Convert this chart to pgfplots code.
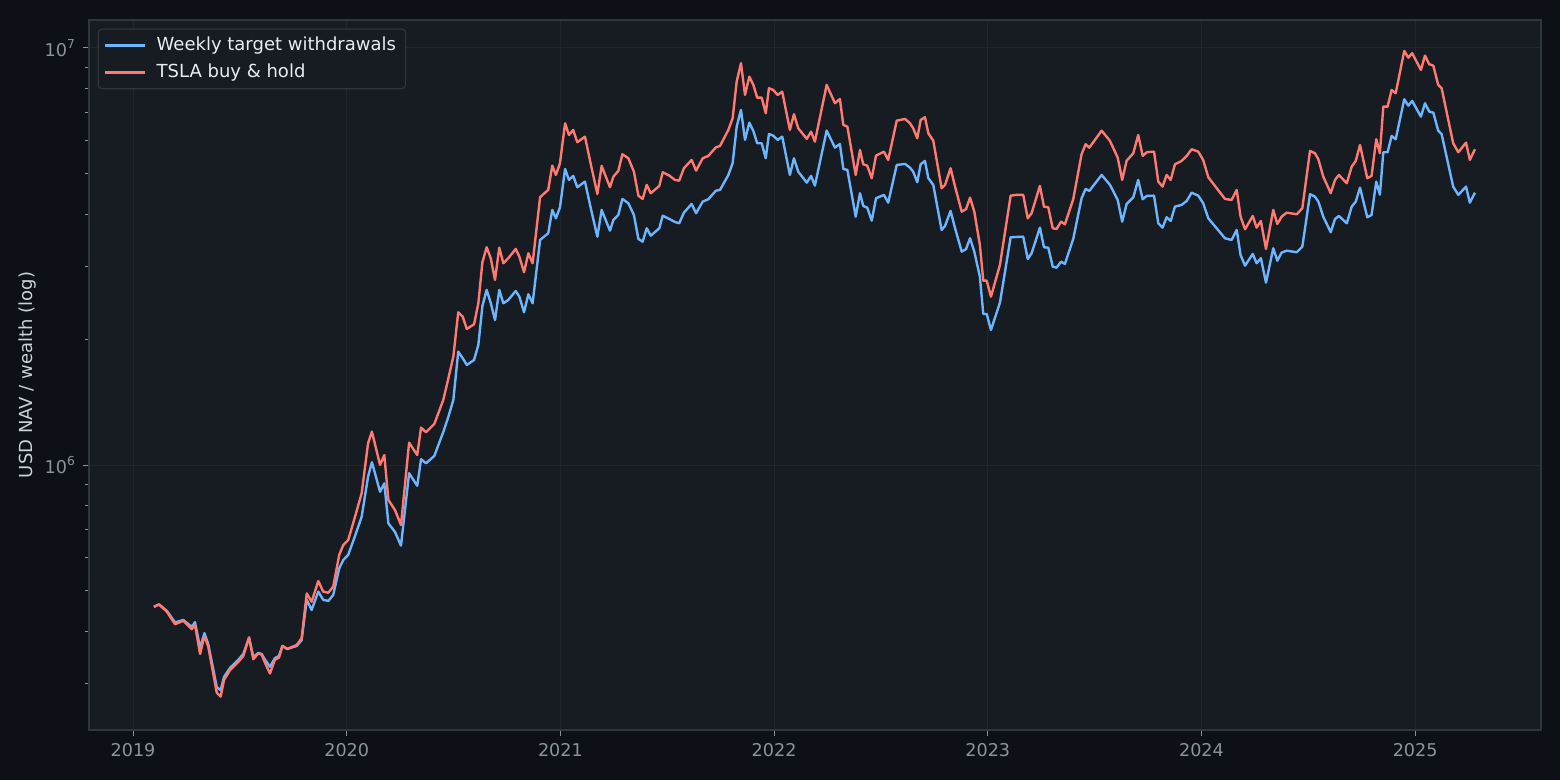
\documentclass[border=0pt]{standalone}
\usepackage{fontspec}
\setmainfont{DejaVu Sans}
\usepackage{pgfplots}
\usepackage{pgfplotstable}
\pgfplotsset{compat=1.18}
\definecolor{figbg}{HTML}{0D1117}
\definecolor{axbg}{HTML}{171B22}
\definecolor{spine}{HTML}{30363D}
\definecolor{gridc}{HTML}{21262D}
\definecolor{tickc}{HTML}{8B949E}
\definecolor{labc}{HTML}{C9D1D9}
\definecolor{legtext}{HTML}{E6EDF3}
\definecolor{bluel}{HTML}{6CB6FF}
\definecolor{redl}{HTML}{FF7B72}

\pgfplotstableread{
year weekly tsla
2019.098 4.58e5 4.58e5
2019.122 4.64e5 4.64e5
2019.158 4.48e5 4.46e5
2019.197 4.20e5 4.16e5
2019.235 4.26e5 4.24e5
2019.275 4.10e5 4.05e5
2019.290 4.21e5 4.14e5
2019.314 3.65e5 3.53e5
2019.334 3.96e5 3.90e5
2019.352 3.73e5 3.68e5
2019.392 2.94e5 2.85e5
2019.410 2.89e5 2.79e5
2019.426 3.11e5 3.06e5
2019.454 3.27e5 3.23e5
2019.493 3.42e5 3.38e5
2019.516 3.53e5 3.49e5
2019.543 3.86e5 3.87e5
2019.563 3.47e5 3.43e5
2019.586 3.55e5 3.54e5
2019.602 3.53e5 3.52e5
2019.618 3.42e5 3.36e5
2019.641 3.29e5 3.17e5
2019.664 3.45e5 3.42e5
2019.683 3.49e5 3.46e5
2019.699 3.69e5 3.69e5
2019.722 3.63e5 3.63e5
2019.766 3.69e5 3.71e5
2019.789 3.81e5 3.85e5
2019.813 4.76e5 4.93e5
2019.836 4.50e5 4.71e5
2019.867 4.98e5 5.28e5
2019.890 4.76e5 4.98e5
2019.914 4.73e5 4.95e5
2019.937 4.89e5 5.12e5
2019.965 5.66e5 6.10e5
2019.984 5.93e5 6.44e5
2020.007 6.10e5 6.62e5
2020.039 6.77e5 7.53e5
2020.070 7.53e5 8.57e5
2020.100 9.39e5 1.129e6
2020.118 1.017e6 1.204e6
2020.156 8.64e5 1.002e6
2020.176 9.05e5 1.058e6
2020.195 7.26e5 8.26e5
2020.226 6.92e5 7.81e5
2020.254 6.42e5 7.19e5
2020.292 9.57e5 1.133e6
2020.330 8.93e5 1.058e6
2020.348 1.034e6 1.231e6
2020.371 1.011e6 1.200e6
2020.410 1.053e6 1.256e6
2020.452 1.202e6 1.434e6
2020.474 1.298e6 1.601e6
2020.499 1.434e6 1.821e6
2020.522 1.872e6 2.326e6
2020.543 1.805e6 2.270e6
2020.562 1.739e6 2.121e6
2020.596 1.788e6 2.177e6
2020.616 1.942e6 2.444e6
2020.635 2.408e6 3.065e6
2020.655 2.631e6 3.330e6
2020.674 2.449e6 3.134e6
2020.694 2.229e6 2.780e6
2020.714 2.631e6 3.322e6
2020.733 2.444e6 3.048e6
2020.756 2.489e6 3.134e6
2020.791 2.616e6 3.299e6
2020.808 2.535e6 3.161e6
2020.830 2.326e6 2.901e6
2020.850 2.569e6 3.221e6
2020.870 2.444e6 3.048e6
2020.905 3.467e6 4.387e6
2020.920 3.518e6 4.461e6
2020.943 3.597e6 4.568e6
2020.962 4.091e6 5.223e6
2020.979 3.907e6 4.962e6
2020.998 4.152e6 5.293e6
2021.022 5.129e6 6.600e6
2021.040 4.827e6 6.187e6
2021.060 4.935e6 6.361e6
2021.079 4.637e6 5.943e6
2021.115 4.782e6 6.130e6
2021.143 4.113e6 5.243e6
2021.173 3.530e6 4.468e6
2021.193 4.091e6 5.215e6
2021.232 3.649e6 4.637e6
2021.248 3.871e6 4.916e6
2021.271 3.979e6 5.073e6
2021.290 4.347e6 5.562e6
2021.318 4.245e6 5.441e6
2021.344 3.979e6 5.053e6
2021.365 3.486e6 4.426e6
2021.385 3.434e6 4.347e6
2021.404 3.698e6 4.696e6
2021.423 3.550e6 4.486e6
2021.463 3.698e6 4.670e6
2021.479 3.964e6 5.037e6
2021.510 3.892e6 4.943e6
2021.536 3.828e6 4.827e6
2021.556 3.801e6 4.809e6
2021.578 4.030e6 5.149e6
2021.614 4.228e6 5.390e6
2021.635 4.017e6 5.081e6
2021.666 4.283e6 5.441e6
2021.692 4.339e6 5.511e6
2021.728 4.550e6 5.781e6
2021.747 4.568e6 5.823e6
2021.786 4.962e6 6.361e6
2021.806 5.293e6 6.785e6
2021.825 6.477e6 8.303e6
2021.845 7.103e6 9.191e6
2021.864 6.019e6 7.716e6
2021.884 6.622e6 8.535e6
2021.903 6.325e6 8.153e6
2021.921 5.910e6 7.601e6
2021.942 5.910e6 7.601e6
2021.961 5.441e6 6.975e6
2021.976 6.221e6 8.006e6
2021.996 6.164e6 7.931e6
2022.017 6.019e6 7.716e6
2022.038 6.130e6 7.857e6
2022.074 4.962e6 6.361e6
2022.093 5.441e6 6.936e6
2022.113 5.053e6 6.421e6
2022.153 4.756e6 6.053e6
2022.173 4.935e6 6.301e6
2022.191 4.678e6 5.963e6
2022.246 6.336e6 8.153e6
2022.285 5.769e6 7.371e6
2022.308 5.888e6 7.548e6
2022.324 5.129e6 6.539e6
2022.343 5.101e6 6.477e6
2022.382 3.942e6 4.962e6
2022.402 4.486e6 5.696e6
2022.417 4.182e6 5.264e6
2022.436 4.143e6 5.223e6
2022.457 3.856e6 4.872e6
2022.477 4.363e6 5.520e6
2022.514 4.444e6 5.643e6
2022.534 4.259e6 5.390e6
2022.574 5.243e6 6.696e6
2022.613 5.273e6 6.758e6
2022.636 5.166e6 6.600e6
2022.651 5.053e6 6.421e6
2022.670 4.766e6 6.076e6
2022.686 5.264e6 6.722e6
2022.706 5.361e6 6.823e6
2022.722 4.872e6 6.245e6
2022.745 4.696e6 5.996e6
2022.784 3.663e6 4.611e6
2022.800 3.745e6 4.696e6
2022.826 4.068e6 5.149e6
2022.847 3.698e6 4.652e6
2022.878 3.250e6 4.052e6
2022.898 3.293e6 4.107e6
2022.917 3.499e6 4.378e6
2022.937 3.250e6 4.052e6
2022.963 2.831e6 3.372e6
2022.979 2.304e6 2.769e6
2022.995 2.304e6 2.769e6
2023.015 2.110e6 2.535e6
2023.057 2.453e6 3.020e6
2023.107 3.518e6 4.426e6
2023.132 3.524e6 4.444e6
2023.166 3.530e6 4.444e6
2023.187 3.121e6 3.907e6
2023.205 3.221e6 4.017e6
2023.244 3.710e6 4.670e6
2023.263 3.330e6 4.166e6
2023.283 3.322e6 4.152e6
2023.304 2.992e6 3.698e6
2023.322 2.975e6 3.683e6
2023.343 3.075e6 3.835e6
2023.361 3.037e6 3.780e6
2023.400 3.486e6 4.339e6
2023.439 4.363e6 5.562e6
2023.458 4.593e6 5.878e6
2023.475 4.543e6 5.769e6
2023.533 4.962e6 6.336e6
2023.572 4.696e6 5.986e6
2023.608 4.323e6 5.459e6
2023.629 3.835e6 4.827e6
2023.650 4.228e6 5.369e6
2023.681 4.387e6 5.593e6
2023.704 4.827e6 6.187e6
2023.725 4.339e6 5.511e6
2023.744 4.419e6 5.624e6
2023.778 4.426e6 5.643e6
2023.798 3.801e6 4.782e6
2023.818 3.710e6 4.652e6
2023.837 3.929e6 4.962e6
2023.856 3.850e6 4.827e6
2023.876 4.166e6 5.264e6
2023.907 4.205e6 5.361e6
2023.931 4.299e6 5.511e6
2023.954 4.500e6 5.718e6
2023.985 4.426e6 5.643e6
2024.008 4.245e6 5.390e6
2024.032 3.907e6 4.899e6
2024.110 3.499e6 4.347e6
2024.141 3.467e6 4.323e6
2024.165 3.663e6 4.568e6
2024.183 3.191e6 3.942e6
2024.204 3.008e6 3.677e6
2024.240 3.209e6 3.958e6
2024.258 3.048e6 3.710e6
2024.278 3.134e6 3.850e6
2024.302 2.739e6 3.299e6
2024.336 3.311e6 4.091e6
2024.355 3.092e6 3.786e6
2024.375 3.232e6 3.942e6
2024.399 3.268e6 4.030e6
2024.446 3.239e6 3.995e6
2024.472 3.341e6 4.129e6
2024.508 4.461e6 5.665e6
2024.531 4.402e6 5.593e6
2024.547 4.283e6 5.411e6
2024.570 3.942e6 4.916e6
2024.605 3.617e6 4.486e6
2024.625 3.892e6 4.827e6
2024.643 3.958e6 4.962e6
2024.680 3.801e6 4.740e6
2024.703 4.166e6 5.195e6
2024.722 4.283e6 5.361e6
2024.742 4.626e6 5.855e6
2024.776 3.929e6 4.872e6
2024.796 3.979e6 4.935e6
2024.818 4.782e6 6.042e6
2024.835 4.451e6 5.593e6
2024.851 5.624e6 7.233e6
2024.871 5.624e6 7.233e6
2024.890 6.154e6 7.931e6
2024.909 6.042e6 7.789e6
2024.949 7.535e6 9.836e6
2024.968 7.274e6 9.478e6
2024.986 7.465e6 9.712e6
2025.027 6.845e6 8.857e6
2025.046 7.371e6 9.584e6
2025.066 7.037e6 9.140e6
2025.085 6.997e6 9.069e6
2025.108 6.336e6 8.153e6
2025.124 6.212e6 8.006e6
2025.178 4.652e6 5.910e6
2025.202 4.444e6 5.624e6
2025.238 4.652e6 5.930e6
2025.256 4.259e6 5.390e6
2025.280 4.500e6 5.718e6
}\navdata

\begin{document}
\begin{tikzpicture}
\fill[figbg] (0pt,0pt) rectangle (780pt,390pt);
\begin{axis}[
  at={(44.5pt,25pt)}, anchor=south west,
  scale only axis, width=726pt, height=355pt,
  xmin=2018.794, xmax=2025.589,
  ymode=log, ymin=2.3214e5, ymax=1.1669e7,
  axis background/.style={fill=axbg},
  axis line style={spine, line width=0.7pt},
  xtick={2019,2020,2021,2022,2023,2024,2025},
  xticklabels={2019,2020,2021,2022,2023,2024,2025},
  ytick={1e6,1e7},
  yticklabels={10\textsuperscript{6},10\textsuperscript{7}},
  minor ytick={2e5,3e5,4e5,5e5,6e5,7e5,8e5,9e5,2e6,3e6,4e6,5e6,6e6,7e6,8e6,9e6},
  tick align=outside, xtick pos=bottom, ytick pos=left,
  major tick length=3pt, minor tick length=2pt,
  tick style={tickc, line width=0.5pt},
  grid=major,
  major grid style={gridc, line width=0.5pt},
  tick label style={font=\fontsize{8.8}{10}\selectfont, text=tickc},
  ylabel={USD NAV / wealth (log)},
  ylabel style={font=\fontsize{9}{11}\selectfont, text=labc, at={(axis description cs:-0.042,0.5)}, anchor=center},
  legend cell align=left,
  legend style={at={(0.006,0.988)}, anchor=north west, fill=axbg, draw=spine, line width=0.6pt, rounded corners=2pt, text=legtext, font=\fontsize{9}{11}\selectfont, inner xsep=2.8pt, inner ysep=2pt, row sep=1.2pt, /tikz/every odd column/.append style={column sep=3.2pt}},
  legend image code/.code={\draw[#1] (0pt,0pt) -- (20pt,0pt);},
]
\addplot[bluel, line width=1.2pt, line join=round, no markers] table[x=year, y=weekly]{\navdata};
\addlegendentry{Weekly target withdrawals}
\addplot[redl, line width=1.2pt, line join=round, no markers] table[x=year, y=tsla]{\navdata};
\addlegendentry{TSLA buy \& hold}
\end{axis}
\pgfresetboundingbox
\useasboundingbox (0pt,0pt) rectangle (780pt,390pt);
\end{tikzpicture}
\end{document}
